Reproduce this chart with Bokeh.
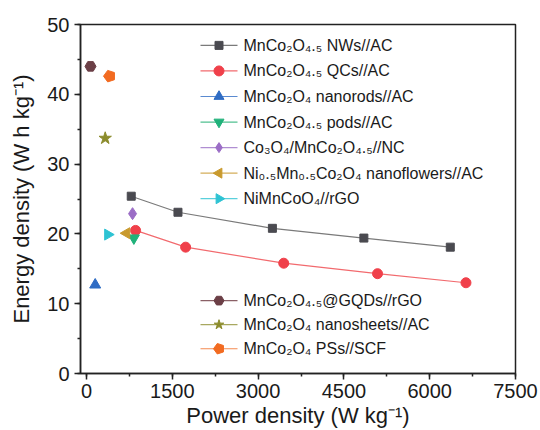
import math
from bokeh.plotting import figure
from bokeh.models import Range1d, SingleIntervalTicker, ColumnDataSource
from bokeh.core.properties import value
from bokeh.embed import file_html
from bokeh.resources import INLINE

# ---- data ----
nws_x = [782, 1599, 3250, 4849, 6360]
nws_y = [25.4, 23.1, 20.8, 19.4, 18.1]
qcs_x = [858, 1733, 3448, 5088, 6634]
qcs_y = [20.5, 18.1, 15.8, 14.3, 13.0]
nanorods_x = [152]
nanorods_y = [12.7]
pods_x = [828]
pods_y = [19.4]
co3o4_x = [805]
co3o4_y = [22.9]
nif_x = [700]
nif_y = [20.1]
nimnco_x = [373]
nimnco_y = [19.9]
gqd_x = [70]
gqd_y = [44.0]
sheets_x = [327]
sheets_y = [33.7]
pss_x = [403]
pss_y = [42.6]

labels = [
    "MnCo₂O₄.₅ NWs//AC",
    "MnCo₂O₄.₅ QCs//AC",
    "MnCo₂O₄ nanorods//AC",
    "MnCo₂O₄.₅ pods//AC",
    "Co₃O₄/MnCo₂O₄.₅//NC",
    "Ni₀.₅Mn₀.₅Co₂O₄ nanoflowers//AC",
    "NiMnCoO₄//rGO",
    "MnCo₂O₄.₅@GQDs//rGO",
    "MnCo₂O₄ nanosheets//AC",
    "MnCo₂O₄ PSs//SCF",
]
x_ticks_interval = 1500
y_ticks_interval = 10

FONT = "Liberation Sans"
W, H = 540, 430
BL, BR, BT, BB = 80, 25, 24, 55
FW, FH = W - BL - BR, H - BT - BB

p = figure(width=W, height=H, output_backend="svg", toolbar_location=None,
           x_range=Range1d(-105, 7500), y_range=Range1d(0, 50),
           min_border_left=BL, min_border_right=BR, min_border_top=BT,
           min_border_bottom=BB)
# pixel-space ranges (frame pixels) used only for the hand-made legend
p.extra_x_ranges = {"px": Range1d(0, FW)}
p.extra_y_ranges = {"px": Range1d(0, FH)}
p.background_fill_color = "white"
p.border_fill_color = "white"
p.xgrid.visible = False
p.ygrid.visible = False
p.outline_line_color = "#222222"
p.outline_line_width = 1.5

p.xaxis.ticker = SingleIntervalTicker(interval=x_ticks_interval, num_minor_ticks=2)
p.yaxis.ticker = SingleIntervalTicker(interval=y_ticks_interval, num_minor_ticks=2)
p.xaxis.axis_label = "Power density (W kg⁻¹)"
p.yaxis.axis_label = "Energy density (W h kg⁻¹)"
for ax in (p.xaxis, p.yaxis):
    ax.axis_line_width = 1.5
    ax.axis_line_color = "#222222"
    ax.major_tick_line_width = 1.5
    ax.minor_tick_line_width = 1.5
    ax.major_tick_line_color = "#222222"
    ax.minor_tick_line_color = "#222222"
    ax.major_tick_out = 6
    ax.major_tick_in = 0
    ax.minor_tick_out = 3
    ax.minor_tick_in = 0
    ax.major_label_text_font = FONT
    ax.major_label_text_font_size = "20px"
    ax.major_label_text_color = "#1a1a1a"
    ax.axis_label_text_font = FONT
    ax.axis_label_text_font_size = "22px"
    ax.axis_label_text_font_style = "normal"
    ax.axis_label_text_color = "#1a1a1a"
p.xaxis.major_label_standoff = 4
p.xaxis.axis_label_standoff = 2
p.yaxis.major_label_standoff = 5
p.yaxis.axis_label_standoff = 10

# style per series: marker, marker colour, line colour, size, angle
styles = [
    ("square", "#4a4a50", "#7a7a7a", 8, 0),
    ("circle", "#f0404a", "#f26a6e", 10, 0),
    ("triangle", "#2f6cc4", "#5a8ad0", 11, 0),
    ("inverted_triangle", "#20b27a", "#50c090", 11, 0),
    ("diamond", "#9b6dc6", "#b08ed2", 12, 0),
    ("triangle", "#c99a2e", "#d4ae5a", 11, math.pi / 2),
    ("triangle", "#2ec3d3", "#5ad0dc", 11, -math.pi / 2),
    ("hex", "#6b3f46", "#8a6066", 11, 0),
    ("star", "#8c8c2c", "#a8a860", 13, 0),
    ("pentagon", "#f26b21", "#f48a50", 11, 0),
]
data = [(nws_x, nws_y), (qcs_x, qcs_y), (nanorods_x, nanorods_y),
        (pods_x, pods_y), (co3o4_x, co3o4_y), (nif_x, nif_y),
        (nimnco_x, nimnco_y), (gqd_x, gqd_y), (sheets_x, sheets_y),
        (pss_x, pss_y)]

has_ngon = hasattr(p, "ngon")


def draw_marker(xs, ys, marker, mcol, size, ang, **kw):
    if marker == "pentagon" and has_ngon:
        p.ngon(x=xs, y=ys, radius=size * 0.55, radius_units="screen", n=5,
               angle=math.pi / 2, fill_color=mcol, line_color=mcol, **kw)
    else:
        mk = "hex" if marker == "pentagon" else marker
        p.scatter(x=xs, y=ys, marker=mk, size=size, angle=ang,
                  fill_color=mcol, line_color=mcol, **kw)


for (xs, ys), (marker, mcol, lcol, size, ang) in zip(data, styles):
    if len(xs) > 1:
        p.line(xs, ys, line_color=lcol, line_width=1.2)
    draw_marker(xs, ys, marker, mcol, size, ang)

# ---- hand-made legend in frame pixel space ----
LX0, LX1, LTX = 120, 157, 163
row_y = [330 - 25.7 * i for i in range(7)] + [73.3 - 24.2 * i for i in range(3)]
for i, (marker, mcol, lcol, size, ang) in enumerate(styles):
    yy = row_y[i]
    p.segment(x0=[LX0], y0=[yy], x1=[LX1], y1=[yy], line_color=lcol,
              line_width=1.2, x_range_name="px", y_range_name="px")
    draw_marker([(LX0 + LX1) / 2], [yy], marker, mcol, min(size, 10), ang,
                x_range_name="px", y_range_name="px")

src = ColumnDataSource(dict(x=[LTX] * len(labels), y=row_y, t=labels))
p.text(x="x", y="y", text="t", source=src, text_font=value(FONT),
       text_font_size="16px", text_baseline="middle", text_align="left",
       text_color="#1a1a1a", x_range_name="px", y_range_name="px")

open("out.html", "w").write(file_html(p, INLINE))
